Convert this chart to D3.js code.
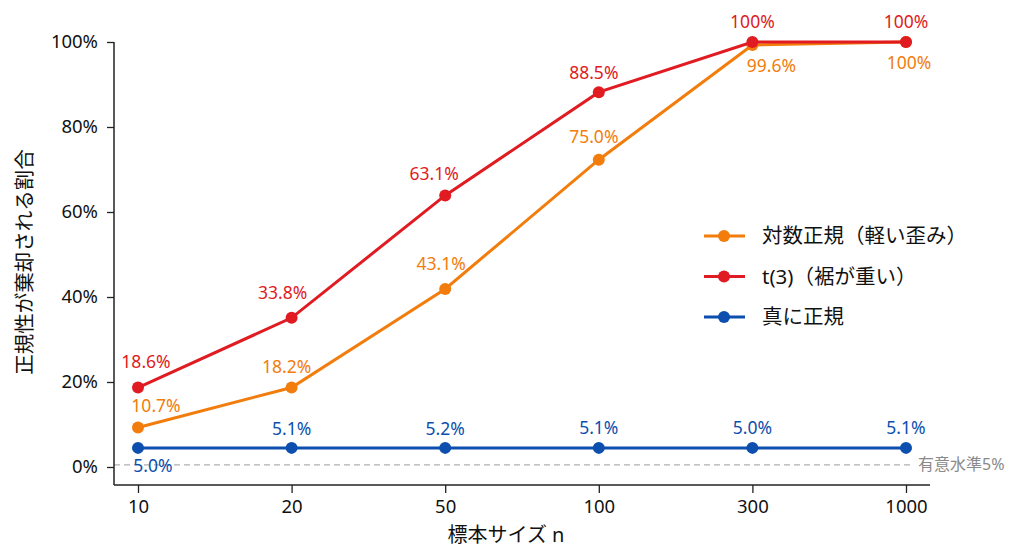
<!DOCTYPE html>
<html>
<head>
<meta charset="utf-8">
<script src="https://cdn.jsdelivr.net/npm/d3@7"></script>
<style>
  body { margin: 0; background: #fff; }
  svg { font-family: "Noto Sans", "Noto Sans CJK JP", sans-serif; }
</style>
</head>
<body>
<div id="chart"></div>
<script>
// sample sizes (categorical x axis)
const sizes = ["10", "20", "50", "100", "300", "1000"];
const yTicks = [0, 20, 40, 60, 80, 100];

// plotted rejection rates (%)
const lognormValues = [9.3, 18.7, 41.9, 72.3, 99.3, 100];
const t3Values = [18.7, 35.1, 63.9, 88.2, 100, 100];
const normalValues = [4.5, 4.5, 4.5, 4.5, 4.5, 4.5];

// point labels as printed
const lognormLabels = ["10.7%", "18.2%", "43.1%", "75.0%", "99.6%", "100%"];
const t3Labels = ["18.6%", "33.8%", "63.1%", "88.5%", "100%", "100%"];
const normalLabels = ["5.0%", "5.1%", "5.2%", "5.1%", "5.0%", "5.1%"];

const seriesNames = ["対数正規（軽い歪み）", "t(3)（裾が重い）", "真に正規"];
const refLevel = 0.5;
const refText = "有意水準5%";

const colors = ["#f27d0c", "#e01b22", "#0c4fae"];

const width = 1024, height = 559;
const svg = d3.select("#chart").append("svg")
  .attr("width", width)
  .attr("height", height);

const x = d3.scalePoint().domain(sizes).range([138, 906]);
const y = d3.scaleLinear().domain([0, 100]).range([467, 42]);

// label placement relative to each point: [dx, baseline dy]
const place = [
  [[18, -15], [-5, -15], [-4, -18.5], [-5, -17], [19, 27], [3, 27]],
  [[8, -20], [-9, -19], [-11, -15], [-5, -13], [0, -14], [0, -14]],
  [[15, 24.5], [0, -13], [0, -13], [0, -14], [0, -14], [0, -14]]
];

const series = [
  { name: seriesNames[0], values: lognormValues, labels: lognormLabels },
  { name: seriesNames[1], values: t3Values, labels: t3Labels },
  { name: seriesNames[2], values: normalValues, labels: normalLabels }
];

// reference line
svg.append("line")
  .attr("x1", 114).attr("x2", 912)
  .attr("y1", y(refLevel)).attr("y2", y(refLevel))
  .attr("stroke", "#b0b0b0")
  .attr("stroke-width", 1.3)
  .attr("stroke-dasharray", "6,4");
svg.append("text")
  .attr("x", 918).attr("y", y(refLevel))
  .attr("dy", "0.35em")
  .style("font-size", "16px")
  .attr("fill", "#8a8a8a")
  .text(refText);

// axes
const yAxis = svg.append("g")
  .attr("transform", "translate(114,0)")
  .call(d3.axisLeft(y).tickValues(yTicks).tickFormat(d => d + "%").tickSizeOuter(0).tickSize(7).tickPadding(9));
yAxis.select(".domain").attr("d", `M0,${y(100)}V485`);

const xAxis = svg.append("g")
  .attr("transform", "translate(0,485)")
  .call(d3.axisBottom(x).tickSizeOuter(0).tickSize(8).tickPadding(7));
xAxis.select(".domain").attr("d", "M114,0H930");

svg.selectAll(".tick text")
  .style("font-family", "'Noto Sans', sans-serif")
  .style("font-size", "18.5px")
  .attr("fill", "#111");
svg.selectAll(".tick line").attr("stroke", "#222").attr("stroke-width", 1.3);
svg.selectAll(".domain").attr("stroke", "#222").attr("stroke-width", 1.5);

// axis titles
svg.append("text")
  .attr("x", 506).attr("y", 535)
  .attr("text-anchor", "middle")
  .attr("dy", "0.35em")
  .style("font-size", "20px")
  .attr("fill", "#111")
  .text("標本サイズ n");

svg.append("text")
  .attr("transform", "translate(25,262) rotate(-90)")
  .attr("text-anchor", "middle")
  .attr("dy", "0.35em")
  .style("font-size", "20.5px")
  .attr("fill", "#111")
  .text("正規性が棄却される割合");

// lines, points, labels
const line = d3.line().x((d, i) => x(sizes[i])).y(d => y(d));

series.forEach((s, si) => {
  const g = svg.append("g");
  g.append("path")
    .attr("d", line(s.values))
    .attr("fill", "none")
    .attr("stroke", colors[si])
    .attr("stroke-width", 3);
  g.selectAll("circle")
    .data(s.values)
    .enter()
    .append("circle")
    .attr("cx", (d, i) => x(sizes[i]))
    .attr("cy", d => y(d))
    .attr("r", 6)
    .attr("fill", colors[si]);
  g.selectAll("text")
    .data(s.values)
    .enter()
    .append("text")
    .attr("x", (d, i) => x(sizes[i]) + place[si][i][0])
    .attr("y", (d, i) => y(d) + place[si][i][1])
    .attr("text-anchor", "middle")
    .style("font-size", "17.5px")
    .attr("fill", colors[si])
    .text((d, i) => s.labels[i]);
});

// legend
const legend = svg.append("g").attr("transform", "translate(704,236)");
series.forEach((s, si) => {
  const row = legend.append("g").attr("transform", `translate(0,${si * 40.5})`);
  row.append("line")
    .attr("x1", 0).attr("x2", 41)
    .attr("stroke", colors[si])
    .attr("stroke-width", 3);
  row.append("circle")
    .attr("cx", 20).attr("r", 6)
    .attr("fill", colors[si]);
  row.append("text")
    .attr("x", 58)
    .attr("dy", "0.35em")
    .style("font-size", "20.5px")
    .attr("fill", "#111")
    .text(s.name);
});
</script>
</body>
</html>
